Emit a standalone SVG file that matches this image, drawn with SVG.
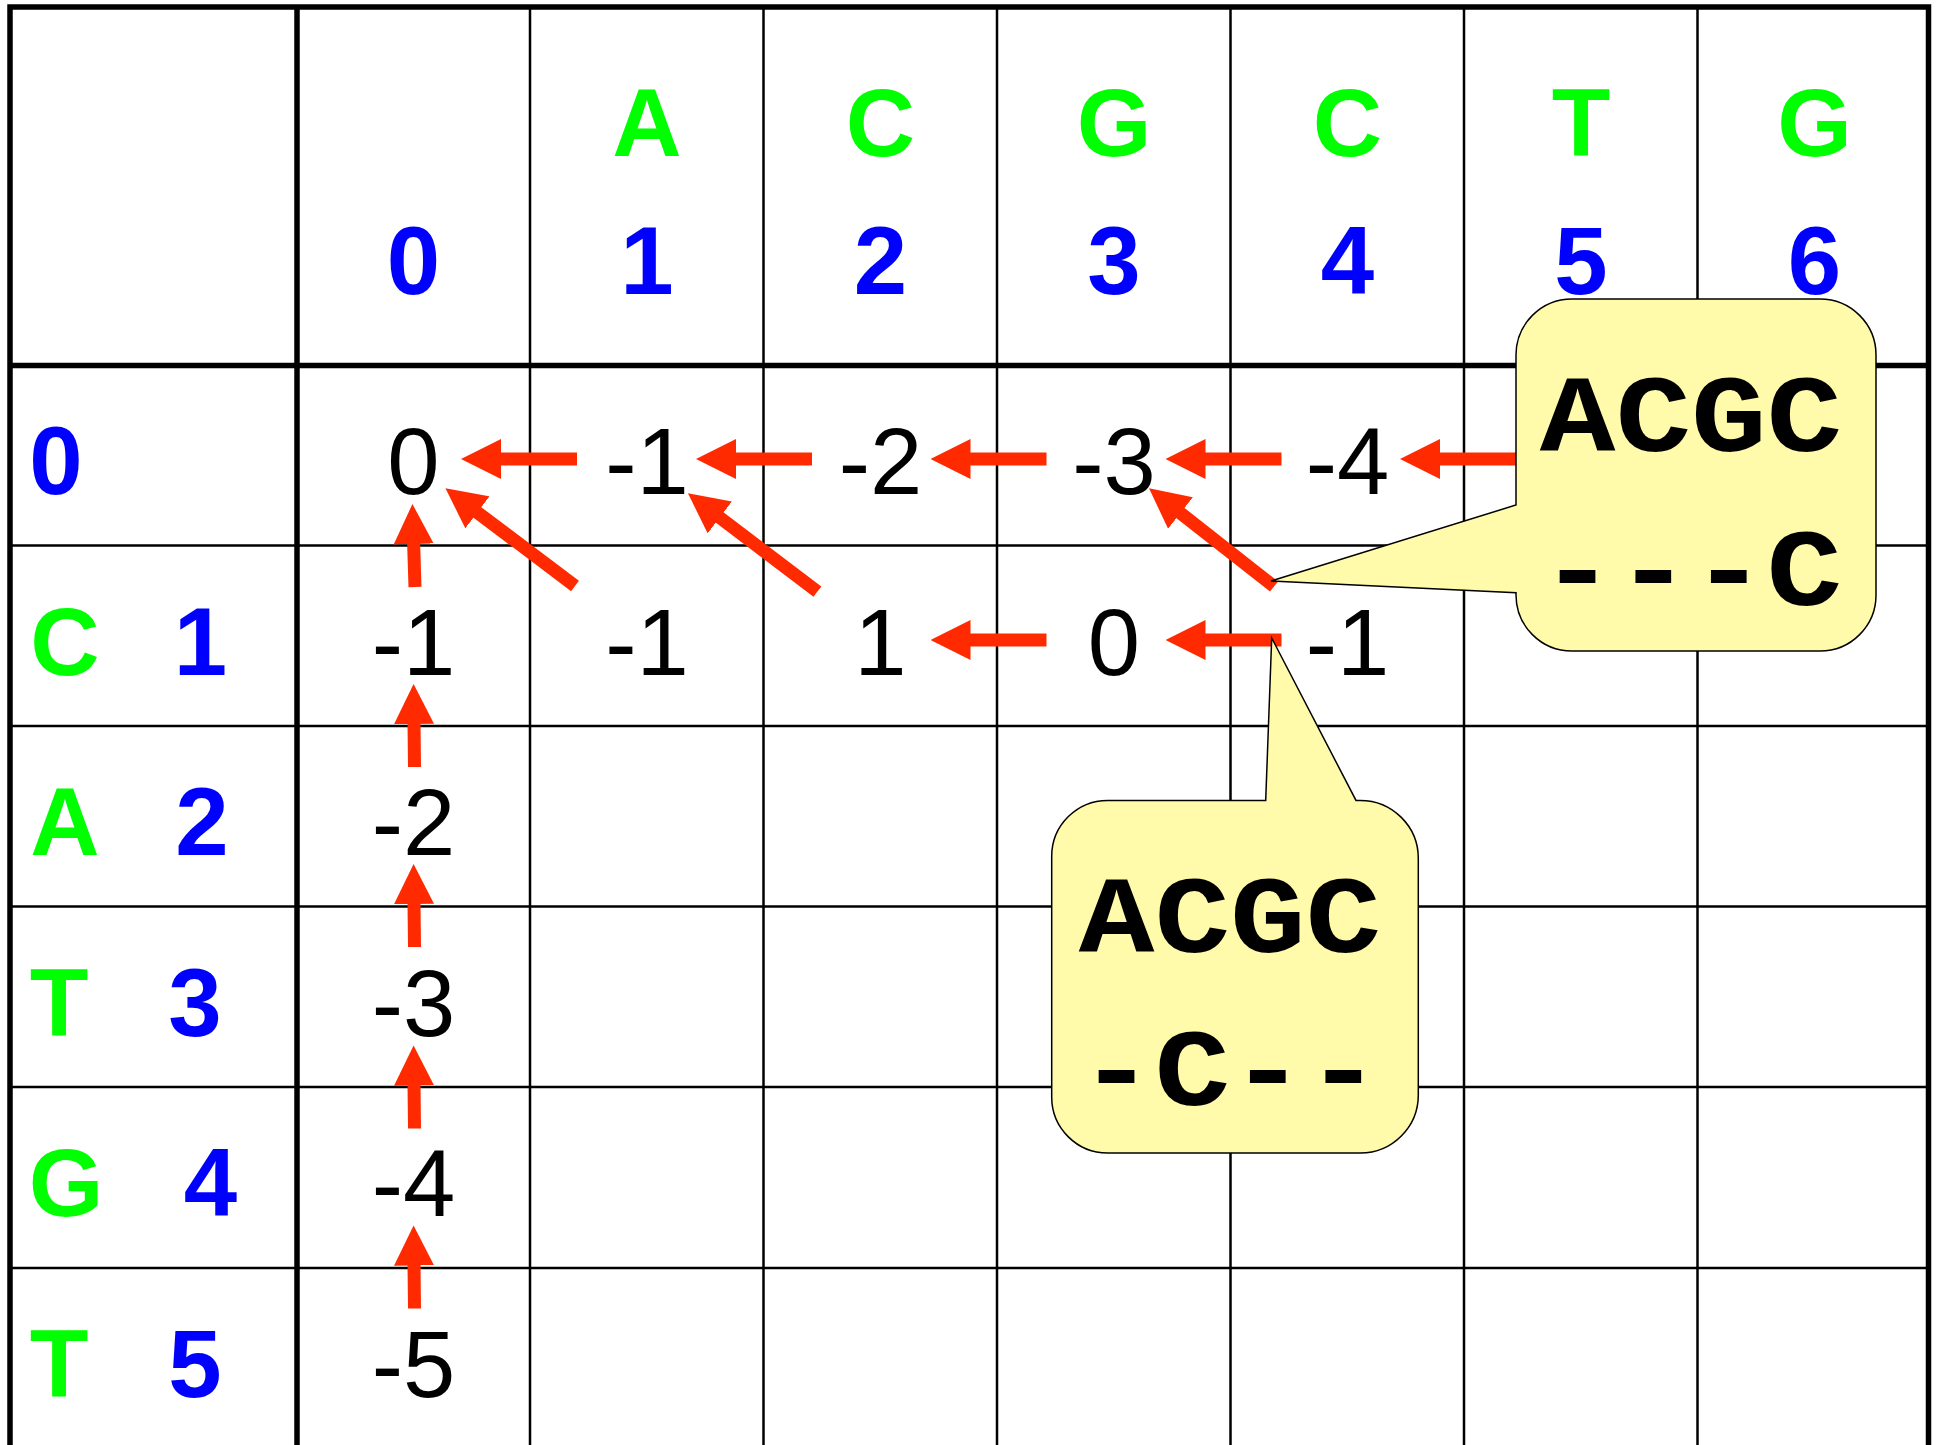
<svg xmlns="http://www.w3.org/2000/svg" width="1939" height="1445" viewBox="0 0 1939 1445">
  <style>
    .thin { stroke: #000; stroke-width: 2.5; fill: none; }
    .thick { stroke: #000; stroke-width: 5.5; fill: none; }
    .base { fill: #00FF00; font-family: "Liberation Sans", Arial, sans-serif; font-weight: bold; font-size: 96px; text-anchor: middle; }
    .idx { fill: #0000FF; font-family: "Liberation Sans", Arial, sans-serif; font-weight: bold; font-size: 96px; text-anchor: middle; }
    .score { fill: #000; font-family: "Liberation Sans", Arial, sans-serif; font-size: 94px; text-anchor: middle; }
    .arrow { stroke: #FF2A00; stroke-width: 13; stroke-linecap: butt; fill: none; marker-end: url(#head); }
    .bubble { fill: #FFFBAA; stroke: #000; stroke-width: 1.5; }
    .align { fill: #000; font-family: "Liberation Mono", "Courier New", monospace; font-weight: bold; font-size: 126px; text-anchor: middle; }
  </style>
  <defs>
    <marker id="head" viewBox="0 0 40 40" refX="2" refY="20" markerWidth="40" markerHeight="40" markerUnits="userSpaceOnUse" orient="auto">
      <path d="M0,0 L40,20 L0,40 Z" fill="#FF2A00"/>
    </marker>
  </defs>

  <rect width="1939" height="1445" fill="#fff"/>

  <!-- table grid -->
  <g id="grid">
    <line class="thin" x1="530" y1="7" x2="530" y2="1445"/>
    <line class="thin" x1="763.5" y1="7" x2="763.5" y2="1445"/>
    <line class="thin" x1="997" y1="7" x2="997" y2="1445"/>
    <line class="thin" x1="1230.5" y1="7" x2="1230.5" y2="1445"/>
    <line class="thin" x1="1464" y1="7" x2="1464" y2="1445"/>
    <line class="thin" x1="1697.5" y1="7" x2="1697.5" y2="1445"/>
    <line class="thin" x1="10" y1="545.5" x2="1928.5" y2="545.5"/>
    <line class="thin" x1="10" y1="726" x2="1928.5" y2="726"/>
    <line class="thin" x1="10" y1="906.5" x2="1928.5" y2="906.5"/>
    <line class="thin" x1="10" y1="1087" x2="1928.5" y2="1087"/>
    <line class="thin" x1="10" y1="1268" x2="1928.5" y2="1268"/>
    <line class="thick" x1="297" y1="7" x2="297" y2="1445"/>
    <line class="thick" x1="10" y1="365.5" x2="1928.5" y2="365.5"/>
    <rect class="thick" x="10" y="7" width="1918.5" height="1445"/>
  </g>

  <!-- column headers: sequence ACGCTG and indices -->
  <g id="col-headers">
    <text class="idx" x="413.5" y="294">0</text>
    <text class="base" x="647" y="156">A</text>
    <text class="idx" x="647" y="294">1</text>
    <text class="base" x="880.5" y="156">C</text>
    <text class="idx" x="880.5" y="294">2</text>
    <text class="base" x="1114" y="156">G</text>
    <text class="idx" x="1114" y="294">3</text>
    <text class="base" x="1347.5" y="156">C</text>
    <text class="idx" x="1347.5" y="294">4</text>
    <text class="base" x="1581" y="156">T</text>
    <text class="idx" x="1581" y="294">5</text>
    <text class="base" x="1814.5" y="156">G</text>
    <text class="idx" x="1814.5" y="294">6</text>
  </g>

  <!-- row headers: sequence CATGT and indices -->
  <g id="row-headers">
    <text class="idx" x="56" y="494">0</text>
    <text class="base" x="65" y="674.6">C</text>
    <text class="idx" x="200.5" y="674.6">1</text>
    <text class="base" x="65" y="855.2">A</text>
    <text class="idx" x="202" y="855.2">2</text>
    <text class="base" x="59" y="1035.8">T</text>
    <text class="idx" x="195" y="1035.8">3</text>
    <text class="base" x="66" y="1216.4">G</text>
    <text class="idx" x="210.5" y="1216.4">4</text>
    <text class="base" x="59" y="1397">T</text>
    <text class="idx" x="195" y="1397">5</text>
  </g>

  <!-- score cells -->
  <g id="cell-0-0"><text class="score" x="413.5" y="494">0</text></g>
  <g id="cell-0-1"><text class="score" x="647" y="494">-1</text></g>
  <g id="cell-0-2"><text class="score" x="880.5" y="494">-2</text></g>
  <g id="cell-0-3"><text class="score" x="1114" y="494">-3</text></g>
  <g id="cell-0-4"><text class="score" x="1347.5" y="494">-4</text></g>
  <g id="cell-1-0"><text class="score" x="413.5" y="674.6">-1</text></g>
  <g id="cell-1-1"><text class="score" x="647" y="674.6">-1</text></g>
  <g id="cell-1-2"><text class="score" x="880.5" y="674.6">1</text></g>
  <g id="cell-1-3"><text class="score" x="1114" y="674.6">0</text></g>
  <g id="cell-1-4"><text class="score" x="1347.5" y="674.6">-1</text></g>
  <g id="cell-2-0"><text class="score" x="413.5" y="855.2">-2</text></g>
  <g id="cell-3-0"><text class="score" x="413.5" y="1035.8">-3</text></g>
  <g id="cell-4-0"><text class="score" x="413.5" y="1216.4">-4</text></g>
  <g id="cell-5-0"><text class="score" x="413.5" y="1397">-5</text></g>

  <!-- traceback pointers -->
  <g id="connectors">
    <line class="arrow" x1="577" y1="459" x2="499" y2="459"/>
    <line class="arrow" x1="812" y1="459" x2="734" y2="459"/>
    <line class="arrow" x1="1046.5" y1="459" x2="968.5" y2="459"/>
    <line class="arrow" x1="1281.5" y1="459" x2="1203.5" y2="459"/>
    <line class="arrow" x1="1516" y1="459" x2="1438" y2="459"/>
    <line class="arrow" x1="1046.5" y1="640" x2="968.5" y2="640"/>
    <line class="arrow" x1="1281.5" y1="640" x2="1203.5" y2="640"/>
    <line class="arrow" x1="415" y1="587" x2="413.6" y2="542"/>
    <line class="arrow" x1="414.5" y1="767" x2="414" y2="722"/>
    <line class="arrow" x1="414.5" y1="947" x2="414" y2="902"/>
    <line class="arrow" x1="414.5" y1="1128.5" x2="414" y2="1083.5"/>
    <line class="arrow" x1="414.5" y1="1308.5" x2="414" y2="1263.5"/>
    <line class="arrow" x1="575" y1="586" x2="475.8" y2="511.2"/>
    <line class="arrow" x1="817.4" y1="591.7" x2="718.2" y2="516.3"/>
    <line class="arrow" x1="1274" y1="586.5" x2="1178.9" y2="511.8"/>
  </g>

  <!-- alignment read from cell (1,4) via the diagonal -->
  <g id="callout-1">
    <path class="bubble" d="M1572,299 H1820 A56,56 0 0 1 1876,355 V595 A56,56 0 0 1 1820,651 H1572 A56,56 0 0 1 1516,595 V592.7 L1271,581 L1516,505 V355 A56,56 0 0 1 1572,299 Z"/>
    <text class="align" x="1691" y="450.5" transform="matrix(1 0 0 0.87 0 58.6)">ACGC</text>
    <text class="align" x="1691" y="604.5" transform="matrix(1 0 0 0.87 0 78.6)">---C</text>
  </g>

  <!-- alignment read from cell (1,4) via the left gap -->
  <g id="callout-2">
    <path class="bubble" d="M1107.7,800.4 H1265.7 L1271.7,638 L1356,800.4 H1360.3 A58,58 0 0 1 1418.3,858.4 V1095 A58,58 0 0 1 1360.3,1153 H1107.7 A56,56 0 0 1 1051.7,1097 V856.4 A56,56 0 0 1 1107.7,800.4 Z"/>
    <text class="align" x="1230" y="951.5" transform="matrix(1 0 0 0.87 0 123.7)">ACGC</text>
    <text class="align" x="1230" y="1105.5" transform="matrix(1 0 0 0.87 0 143.7)">-C--</text>
  </g>
</svg>
